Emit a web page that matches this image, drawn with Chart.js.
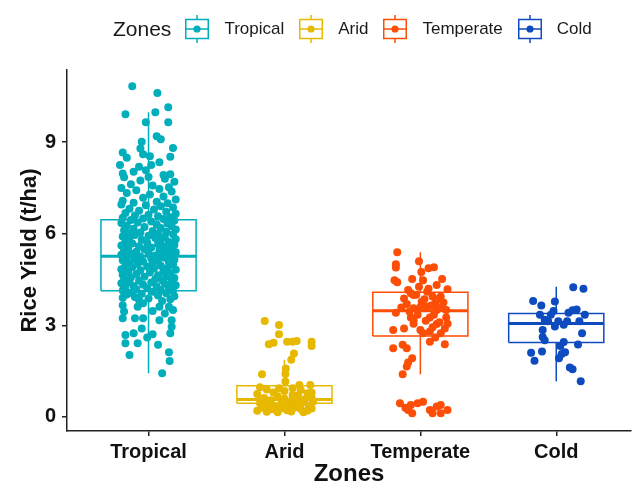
<!DOCTYPE html>
<html>
<head>
<meta charset="utf-8">
<script src="https://cdn.jsdelivr.net/npm/chart.js@4"></script>
<style>
  body { margin: 0; background: #fff; font-family: 'Liberation Sans', Arial, sans-serif; }
  #wrap { position: relative; width: 638px; height: 486px; }
  #legend { position: absolute; left: 113px; top: 15px; height: 28px; display: flex; align-items: center; color: #1a1a1a; }
  #legend .title { font-size: 21px; margin-right: 14px; }
  #legend svg { margin-right: 15px; }
  #legend .lab { font-size: 17px; margin-right: 15px; }
</style>
</head>
<body>
<div id="wrap">
  <canvas id="yield"></canvas>
  <div id="legend"><span class="title">Zones</span></div>
</div>
<script>
const zones = ['Tropical', 'Arid', 'Temperate', 'Cold'];
const zoneColors = ['#00AFBB', '#E7B800', '#FC4E07', '#0D4BBE'];
const yTicks = [0, 3, 6, 9];

// boxplot summaries per zone
const whiskerLow  = [1.43, 0.13, 1.40, 1.17];
const q1          = [4.13, 0.45, 2.65, 2.44];
const median      = [5.26, 0.57, 3.48, 3.06];
const q3          = [6.46, 1.02, 4.08, 3.39];
const whiskerHigh = [9.98, 1.87, 5.39, 4.26];

// jittered observations: [horizontal jitter, yield t/ha]
const tropicalPoints = [
  [-0.12, 10.83], [0.065, 10.61], [-0.17, 9.91], [0.145, 10.14], [0.05, 9.98], [-0.02, 9.65], [0.145, 9.65],
  [0.06, 9.19], [0.09, 9.09], [0.18, 8.81], [-0.05, 9.01], [-0.06, 8.79], [0.16, 8.52], [-0.19, 8.66],
  [-0.16, 8.49], [-0.04, 8.6], [0.01, 8.54], [0.08, 8.34], [-0.21, 8.25], [-0.07, 8.19], [0.02, 8.25],
  [-0.19, 7.97], [-0.11, 8.03], [0.11, 7.92], [0.16, 7.95], [-0.02, 8.08], [0.0, 7.86],
  [-0.18, 7.85], [0.12, 7.8], [-0.06, 7.74], [0.19, 7.7], [-0.13, 7.62], [0.03, 7.58], [0.15, 7.52], [-0.2, 7.5], [0.08, 7.46],
  [-0.09, 7.42], [0.17, 7.38], [-0.16, 7.33], [0.01, 7.28], [0.11, 7.22], [-0.04, 7.18], [0.2, 7.12], [-0.19, 7.08],
  [0.06, 7.05], [-0.11, 7.01], [0.14, 7.0],
  [-0.2, 6.96], [-0.02, 6.93], [0.09, 6.9], [0.18, 6.86], [-0.14, 6.82], [0.04, 6.79], [-0.07, 6.75], [0.13, 6.72],
  [-0.17, 6.68], [0.2, 6.65], [0.0, 6.62], [-0.1, 6.6], [0.07, 6.57], [0.16, 6.54], [-0.19, 6.52], [-0.04, 6.5],
  [0.11, 6.48], [-0.13, 6.45], [0.19, 6.43], [0.02, 6.4], [-0.08, 6.37], [-0.2, 6.35], [0.14, 6.33], [0.06, 6.3],
  [-0.16, 6.27], [0.17, 6.24], [-0.03, 6.22], [0.09, 6.19], [-0.11, 6.16], [0.2, 6.14], [-0.18, 6.11], [0.03, 6.09],
  [0.13, 6.06], [-0.06, 6.04], [-0.15, 6.02], [0.07, 6.0],
  [0.18, 5.98], [-0.1, 5.96], [0.0, 5.93], [-0.19, 5.91], [0.12, 5.89], [0.05, 5.86], [-0.14, 5.84], [0.2, 5.82],
  [-0.05, 5.8], [0.09, 5.77], [-0.17, 5.75], [0.15, 5.73], [-0.01, 5.7], [-0.12, 5.68], [0.07, 5.66], [0.19, 5.63],
  [-0.2, 5.61], [-0.07, 5.59], [0.11, 5.57], [0.02, 5.55], [-0.15, 5.53], [0.16, 5.51],
  [-0.03, 5.49], [0.08, 5.47], [-0.18, 5.45], [0.14, 5.43], [-0.09, 5.41], [0.2, 5.39], [0.0, 5.37], [-0.13, 5.35],
  [0.1, 5.33], [-0.2, 5.31], [0.05, 5.29], [0.17, 5.27], [-0.06, 5.25], [-0.16, 5.23], [0.12, 5.21], [0.02, 5.19],
  [-0.1, 5.17], [0.19, 5.15], [-0.19, 5.13], [0.07, 5.11], [-0.04, 5.09], [0.15, 5.07], [-0.14, 5.05], [0.03, 5.03], [-0.08, 5.01],
  [0.18, 4.99], [-0.17, 4.97], [0.09, 4.95], [-0.01, 4.93], [-0.12, 4.9], [0.14, 4.88], [0.04, 4.86], [-0.2, 4.84],
  [0.2, 4.82], [-0.06, 4.8], [0.11, 4.77], [-0.15, 4.75], [0.01, 4.73], [0.16, 4.7], [-0.09, 4.68], [-0.19, 4.66],
  [0.07, 4.64], [0.13, 4.61], [-0.03, 4.59], [-0.13, 4.57], [0.19, 4.55], [0.05, 4.52], [-0.18, 4.5],
  [0.1, 4.48], [-0.07, 4.46], [0.17, 4.44], [-0.14, 4.42], [0.02, 4.4], [-0.2, 4.38], [0.12, 4.36], [-0.04, 4.33],
  [0.2, 4.31], [-0.11, 4.29], [0.06, 4.27], [-0.17, 4.25], [0.15, 4.23], [-0.01, 4.21], [-0.09, 4.18], [0.09, 4.16],
  [-0.19, 4.14], [0.18, 4.12], [0.03, 4.1], [-0.13, 4.07], [0.13, 4.05], [-0.05, 4.03], [-0.16, 4.01],
  [0.07, 3.98], [0.19, 3.95], [-0.1, 3.93], [-0.19, 3.9], [0.0, 3.88], [0.16, 3.85], [-0.07, 3.83], [0.1, 3.8],
  [-0.19, 3.66], [-0.08, 3.61], [-0.04, 3.72], [0.08, 3.61], [0.15, 3.61], [0.18, 3.5], [-0.18, 3.45], [0.03, 3.47],
  [0.12, 3.39], [-0.19, 3.23], [-0.1, 3.23], [-0.04, 3.23], [0.08, 3.17], [0.17, 3.17], [-0.05, 2.9], [0.17, 2.95],
  [-0.17, 2.68], [-0.11, 2.74], [-0.01, 2.6], [0.03, 2.71], [0.16, 2.74], [0.07, 2.36], [-0.08, 2.41], [-0.17, 2.41],
  [-0.14, 2.03], [0.15, 2.12], [0.155, 1.83], [0.1, 1.43]
];

const aridPoints = [
  [-0.145, 3.14], [-0.04, 3.01], [-0.04, 2.71], [-0.115, 2.38], [-0.08, 2.43], [0.02, 2.46], [0.06, 2.46],
  [0.09, 2.49], [0.2, 2.46], [0.2, 2.32], [0.07, 2.08], [0.05, 1.87], [0.01, 1.59], [0.007, 1.41], [-0.165, 1.4],
  [0.007, 1.16], [-0.18, 0.97], [-0.04, 0.94], [0.06, 0.94], [0.11, 1.05], [0.19, 1.05], [0.2, 0.8],
  [-0.2, 0.75], [-0.15, 0.62], [-0.1, 0.55], [-0.05, 0.68], [0.0, 0.6], [0.05, 0.52], [0.1, 0.7], [0.15, 0.58], [0.2, 0.64],
  [-0.18, 0.45], [-0.12, 0.4], [-0.07, 0.35], [-0.02, 0.48], [0.03, 0.42], [0.08, 0.38], [0.13, 0.47], [0.18, 0.36], [0.21, 0.5],
  [-0.16, 0.3], [-0.09, 0.25], [-0.03, 0.28], [0.02, 0.22], [0.07, 0.3], [0.12, 0.26], [0.17, 0.21], [-0.2, 0.2],
  [-0.13, 0.17], [-0.05, 0.15], [0.05, 0.18], [0.14, 0.15], [0.2, 0.28], [-0.17, 0.55], [-0.08, 0.8], [0.0, 0.85],
  [0.12, 0.88], [0.17, 0.78], [-0.13, 0.9], [0.06, 0.72], [-0.02, 0.32], [0.1, 0.45]
];

const temperatePoints = [
  [-0.17, 5.39], [-0.18, 5.0], [-0.18, 4.89], [-0.01, 5.1], [0.06, 4.87], [0.1, 4.9], [0.007, 4.75], [-0.19, 4.48],
  [-0.17, 4.41], [-0.06, 4.52], [0.02, 4.48], [0.16, 4.52], [0.12, 4.32], [0.2, 4.18], [-0.09, 4.16], [-0.01, 4.26],
  [0.05, 4.1], [-0.12, 3.88], [-0.05, 3.99], [0.09, 3.94], [0.15, 3.94], [-0.1, 3.7], [0.01, 3.77], [0.11, 3.72],
  [-0.05, 3.56], [0.05, 3.61], [0.16, 3.59], [-0.18, 3.41], [-0.07, 3.26], [0.07, 3.26], [0.19, 3.26], [-0.12, 2.9],
  [-0.2, 2.85], [0.0, 2.85], [0.09, 2.94], [0.18, 2.9], [0.15, 2.74], [0.02, 2.74], [-0.05, 3.17], [0.12, 3.04],
  [0.07, 2.46], [0.18, 2.38], [-0.2, 2.25], [-0.13, 2.36], [-0.1, 2.25], [-0.06, 1.92], [-0.09, 1.78], [-0.1, 1.65],
  [-0.13, 1.4],
  [-0.03, 4.0], [0.03, 3.85], [0.08, 3.65], [-0.08, 3.45], [0.12, 3.5], [0.17, 3.75], [-0.02, 3.35], [0.04, 3.15],
  [0.1, 3.35], [0.14, 3.1], [-0.05, 3.05], [0.06, 4.2], [-0.07, 4.05], [0.19, 3.5], [0.2, 3.05], [0.0, 3.6],
  [0.13, 3.85], [-0.14, 3.58], [0.07, 2.8], [0.11, 2.6],
  [-0.15, 0.45], [-0.11, 0.3], [-0.07, 0.39], [-0.06, 0.12], [-0.02, 0.45], [0.02, 0.5], [0.07, 0.23], [0.09, 0.12],
  [0.15, 0.39], [0.15, 0.12], [0.2, 0.23], [-0.09, 0.23], [0.12, 0.34]
];

const coldPoints = [
  [0.125, 4.25], [0.2, 4.2], [-0.17, 3.8], [-0.11, 3.65], [-0.01, 3.78], [0.12, 3.49], [0.15, 3.52], [0.21, 3.35],
  [-0.02, 3.47], [-0.12, 3.35], [-0.04, 3.35], [-0.085, 3.18], [0.015, 3.13], [0.08, 3.13], [0.17, 3.13],
  [-0.01, 2.96], [0.055, 3.02], [-0.1, 2.85], [0.19, 2.74], [-0.1, 2.62], [-0.085, 2.51], [0.055, 2.45],
  [0.16, 2.37], [0.03, 2.32], [-0.185, 2.1], [-0.105, 2.14], [0.04, 2.06], [0.065, 2.12], [0.02, 1.92],
  [-0.16, 1.84], [0.12, 1.56], [0.1, 1.62], [0.18, 1.17], [-0.06, 3.13], [0.09, 3.41]
];

const zonePoints = [tropicalPoints, aridPoints, temperatePoints, coldPoints];
const boxHalf = 0.35;

// box outline plus whiskers as one path, gaps split the pieces
function boxPath(i) {
  const c = i + 1;
  return [
    {x: c, y: q3[i]}, {x: c, y: whiskerHigh[i]}, {x: c, y: null},
    {x: c, y: q1[i]}, {x: c, y: whiskerLow[i]}, {x: c, y: null},
    {x: c - boxHalf, y: q1[i]}, {x: c + boxHalf, y: q1[i]},
    {x: c + boxHalf, y: q3[i]}, {x: c - boxHalf, y: q3[i]}, {x: c - boxHalf, y: q1[i]}
  ];
}

const datasets = [];
zones.forEach((z, i) => {
  datasets.push({
    type: 'line', label: z + ' box', data: boxPath(i),
    borderColor: zoneColors[i], borderWidth: 1.5, pointRadius: 0,
    borderJoinStyle: 'miter', fill: false, tension: 0, spanGaps: false, order: 2
  });
  datasets.push({
    type: 'line', label: z + ' median',
    data: [{x: i + 1 - boxHalf, y: median[i]}, {x: i + 1 + boxHalf, y: median[i]}],
    borderColor: zoneColors[i], borderWidth: 3, pointRadius: 0, fill: false, order: 2
  });
  datasets.push({
    type: 'scatter', label: z,
    data: zonePoints[i].map(p => ({x: i + 1 + p[0], y: p[1]})),
    backgroundColor: zoneColors[i], borderWidth: 0, pointRadius: 4, order: 1
  });
});

const axisFont = { family: "'Liberation Sans', Arial, sans-serif", weight: 'bold' };

new Chart(document.getElementById('yield'), {
  type: 'scatter',
  data: { datasets: datasets },
  options: {
    responsive: true,
    maintainAspectRatio: false,
    animation: false,
    layout: { padding: { top: 70, right: 7, left: 0, bottom: 0 } },
    plugins: { legend: { display: false }, tooltip: { enabled: false } },
    scales: {
      x: {
        type: 'linear', min: 0.4, max: 4.55,
        afterBuildTicks: s => { s.ticks = zones.map((z, i) => ({ value: i + 1 })); },
        afterFit: s => { s.height = 55; },
        ticks: { callback: v => zones[v - 1], color: '#111', padding: 4, font: { ...axisFont, size: 20 } },
        grid: { drawOnChartArea: false, drawTicks: true, tickLength: 5, color: '#222', lineWidth: 1.5 },
        border: { display: true, color: '#222', width: 1.5 },
        title: { display: true, text: 'Zones', color: '#111', padding: { top: 0, bottom: 0 },
                 font: { ...axisFont, size: 24, lineHeight: 1 } }
      },
      y: {
        min: -0.46, max: 11.36,
        afterBuildTicks: s => { s.ticks = yTicks.map(v => ({ value: v })); },
        afterFit: s => { s.width = 67; },
        ticks: { color: '#111', padding: 6, font: { ...axisFont, size: 20 } },
        grid: { drawOnChartArea: false, drawTicks: true, tickLength: 5, color: '#222', lineWidth: 1.5 },
        border: { display: true, color: '#222', width: 1.5 },
        title: { display: true, text: 'Rice Yield (t/ha)', color: '#111', padding: { top: 19, bottom: 0 },
                 font: { ...axisFont, size: 22, lineHeight: 1 } }
      }
    }
  }
});

// legend keys drawn as small boxplot glyphs
const legend = document.getElementById('legend');
zones.forEach((z, i) => {
  const c = zoneColors[i];
  legend.insertAdjacentHTML('beforeend',
    '<svg width="24" height="28" viewBox="0 0 24 28">' +
    '<line x1="12" y1="0" x2="12" y2="28" stroke="' + c + '" stroke-width="1.5"/>' +
    '<rect x="0.75" y="4.5" width="22.5" height="19" fill="#fff" stroke="' + c + '" stroke-width="1.5"/>' +
    '<line x1="0.75" y1="14" x2="23.25" y2="14" stroke="' + c + '" stroke-width="1.5"/>' +
    '<circle cx="12" cy="14" r="3.6" fill="' + c + '"/></svg>' +
    '<span class="lab">' + z + '</span>');
});
</script>
</body>
</html>
